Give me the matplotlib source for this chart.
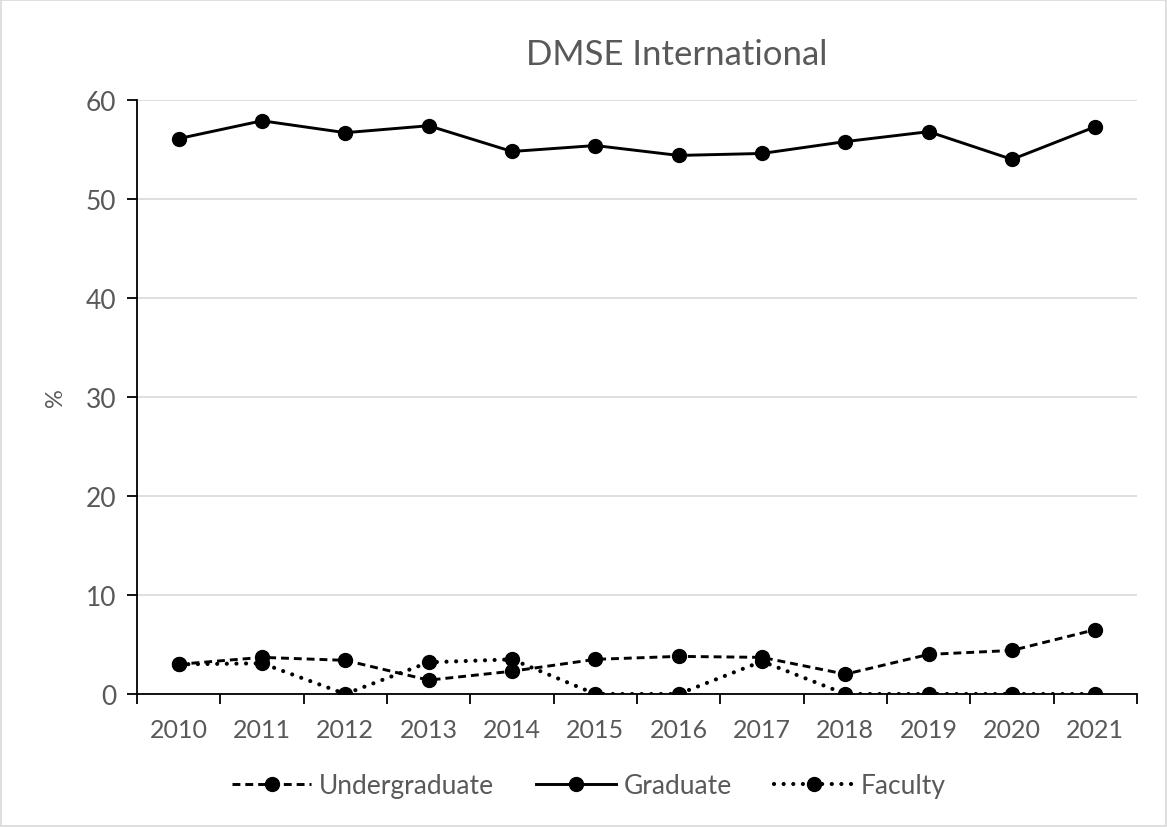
import matplotlib
matplotlib.use("Agg")
import matplotlib.pyplot as plt
from matplotlib.patches import Rectangle

years = ["2010", "2011", "2012", "2013", "2014", "2015",
         "2016", "2017", "2018", "2019", "2020", "2021"]
undergraduate = [3.0, 3.7, 3.4, 1.4, 2.3, 3.5, 3.8, 3.7, 2.0, 4.0, 4.4, 6.5]
graduate = [56.1, 57.9, 56.7, 57.4, 54.8, 55.4, 54.4, 54.6, 55.8, 56.8, 54.0, 57.3]
faculty = [3.0, 3.1, 0.0, 3.2, 3.5, 0.0, 0.0, 3.3, 0.0, 0.0, 0.0, 0.0]

gray = "#595959"
plt.rcParams["font.family"] = ["Lato", "DejaVu Sans"]

fig = plt.figure(figsize=(11.67, 8.28), dpi=100)
ax = fig.add_axes([137 / 1167, 1 - 695 / 828, 1000 / 1167, 594 / 828])

x = list(range(len(years)))
ax.plot(x, undergraduate, color="black", lw=2.1, linestyle=(0, (2.7, 1.7)),
        marker="o", ms=10, label="Undergraduate", zorder=3)
ax.plot(x, graduate, color="black", lw=2.1, linestyle="-",
        marker="o", ms=10, label="Graduate", zorder=3)
ax.plot(x, faculty, color="black", lw=3, linestyle=(0, (0.01, 2.3)),
        dash_capstyle="round", marker="o", ms=10, label="Faculty", zorder=3)

ax.set_xlim(-0.5, len(years) - 0.5)
ax.set_ylim(0, 60)
ax.set_yticks(range(0, 61, 10))
ax.set_xticks(x)
ax.set_xticklabels(years)
ax.set_xticks([i - 0.5 for i in range(len(years) + 1)], minor=True)
ax.tick_params(axis="x", which="major", length=0, pad=17, labelsize=18, labelcolor=gray)
ax.tick_params(axis="x", which="minor", length=7, width=1.3, direction="out")
ax.tick_params(axis="y", length=7, width=1.3, direction="out", pad=8,
               labelsize=19, labelcolor=gray)

ax.yaxis.grid(True, color="#d9d9d9", lw=1.2)
ax.set_axisbelow(True)
for side in ["top", "right"]:
    ax.spines[side].set_visible(False)
for side in ["left", "bottom"]:
    ax.spines[side].set_linewidth(1.3)

ax.set_ylabel("%", fontsize=17, color=gray, labelpad=14)
fig.text(677 / 1167, 1 - 55 / 828, "DMSE International", fontsize=25,
         color=gray, ha="center", va="center")

fig.legend(loc="center", bbox_to_anchor=(589 / 1167, 1 - 787 / 828), ncol=3,
           frameon=False, fontsize=19, handlelength=3, columnspacing=1.6,
           handletextpad=0.3, labelcolor=gray)

fig.patches.append(Rectangle((0.001, 0.001), 0.998, 0.998, transform=fig.transFigure,
                             fill=False, edgecolor="#d9d9d9", lw=1.2))

fig.savefig("out.png", dpi=100)
